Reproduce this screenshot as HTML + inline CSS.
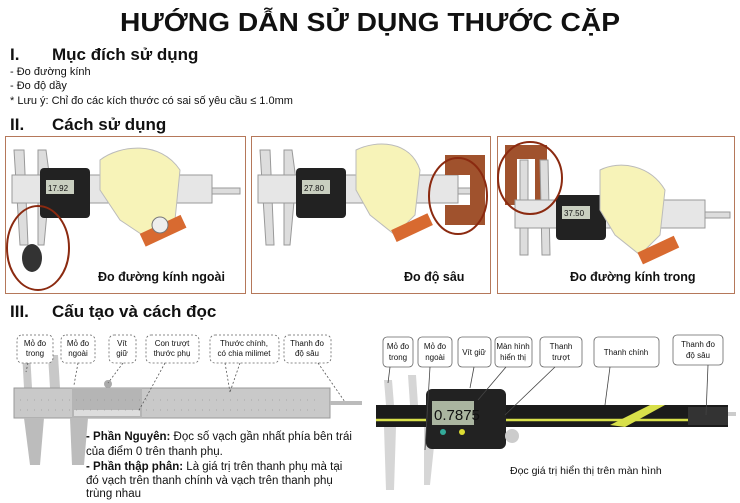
<!DOCTYPE html>
<html><head><meta charset="utf-8"><style>
html,body{margin:0;padding:0;background:#fff}
svg{display:block}
text{font-family:"Liberation Sans",sans-serif;fill:#111}
</style></head><body>
<svg width="740" height="503" viewBox="0 0 740 503" xmlns="http://www.w3.org/2000/svg">
<rect width="740" height="503" fill="#fff"/>
<text x="370" y="31" font-size="26" font-weight="bold" text-anchor="middle" textLength="500" lengthAdjust="spacingAndGlyphs">HƯỚNG DẪN SỬ DỤNG THƯỚC CẶP</text>
<text x="10" y="60" font-size="17" font-weight="bold">I.</text>
<text x="52" y="60" font-size="17" font-weight="bold">Mục đích sử dụng</text>
<text x="10" y="75" font-size="11">- Đo đường kính</text>
<text x="10" y="89" font-size="11">- Đo độ dầy</text>
<text x="10" y="104" font-size="11">* Lưu ý: Chỉ đo các kích thước có sai số yêu cầu ≤ 1.0mm</text>
<text x="10" y="130" font-size="17" font-weight="bold">II.</text>
<text x="52" y="130" font-size="17" font-weight="bold">Cách sử dụng</text>

<!-- Panel 1 -->
<g>
<rect x="5.5" y="136.5" width="240" height="157" fill="#fff" stroke="#b5785a"/>
<path d="M14 150 L24 150 L28 245 L20 245 Z" fill="#ddd" stroke="#999"/>
<path d="M38 150 L46 150 L50 180 L44 245 L38 245 Z" fill="#ddd" stroke="#999"/>
<rect x="12" y="175" width="200" height="28" fill="#e6e6e6" stroke="#999"/>
<rect x="212" y="188" width="28" height="6" fill="#ddd" stroke="#999"/>
<rect x="40" y="168" width="50" height="50" rx="4" fill="#222"/>
<rect x="46" y="180" width="28" height="14" fill="#c9cfc0"/>
<text x="48" y="191" font-size="8">17.92</text>
<path d="M100 160 C120 145 160 140 180 170 L175 220 L150 240 L120 220 L100 190 Z" fill="#f7f3b8" stroke="#bbb"/>
<rect x="140" y="225" width="45" height="14" fill="#d86a30" transform="rotate(-25 160 230)"/>
<circle cx="160" cy="225" r="8" fill="#eee" stroke="#777"/>
<ellipse cx="38" cy="248" rx="31" ry="42" fill="none" stroke="#8b2a10" stroke-width="2"/>
<ellipse cx="32" cy="258" rx="10" ry="14" fill="#333"/>
<text x="98" y="281" font-size="12.5" font-weight="bold">Đo đường kính ngoài</text>
</g>

<!-- Panel 2 -->
<g>
<rect x="251.5" y="136.5" width="239" height="157" fill="#fff" stroke="#b5785a"/>
<path d="M260 150 L270 150 L274 245 L266 245 Z" fill="#ddd" stroke="#999"/>
<path d="M284 150 L292 150 L296 180 L290 245 L284 245 Z" fill="#ddd" stroke="#999"/>
<rect x="258" y="175" width="200" height="28" fill="#e6e6e6" stroke="#999"/>
<rect x="458" y="188" width="20" height="6" fill="#ddd" stroke="#999"/>
<rect x="296" y="168" width="50" height="50" rx="4" fill="#222"/>
<rect x="302" y="180" width="28" height="14" fill="#c9cfc0"/>
<text x="304" y="191" font-size="8">27.80</text>
<path d="M356 150 C376 140 410 140 420 170 L415 215 L395 235 L370 215 L356 190 Z" fill="#f7f3b8" stroke="#bbb"/>
<rect x="392" y="222" width="40" height="13" fill="#d86a30" transform="rotate(-25 410 228)"/>
<rect x="445" y="155" width="40" height="20" fill="#a0522d"/>
<rect x="445" y="205" width="40" height="20" fill="#a0522d"/>
<rect x="470" y="155" width="15" height="70" fill="#a0522d"/>
<ellipse cx="458" cy="196" rx="29" ry="38" fill="none" stroke="#8b2a10" stroke-width="2"/>
<text x="404" y="281" font-size="12.5" font-weight="bold">Đo độ sâu</text>
</g>

<!-- Panel 3 -->
<g>
<rect x="497.5" y="136.5" width="237" height="157" fill="#fff" stroke="#b5785a"/>
<rect x="505" y="145" width="40" height="14" fill="#a0522d"/>
<rect x="505" y="145" width="12" height="60" fill="#a0522d"/>
<rect x="535" y="145" width="12" height="60" fill="#a0522d"/>
<path d="M520 160 L528 160 L528 255 L520 255 Z" fill="#ddd" stroke="#999"/>
<path d="M540 160 L548 160 L550 255 L542 255 Z" fill="#ddd" stroke="#999"/>
<rect x="515" y="200" width="190" height="28" fill="#e6e6e6" stroke="#999"/>
<rect x="705" y="212" width="25" height="6" fill="#ddd" stroke="#999"/>
<rect x="556" y="195" width="50" height="45" rx="4" fill="#222"/>
<rect x="562" y="206" width="28" height="13" fill="#c9cfc0"/>
<text x="564" y="216" font-size="8">37.50</text>
<path d="M600 170 C620 160 650 165 665 190 L660 235 L640 255 L615 235 L600 210 Z" fill="#f7f3b8" stroke="#bbb"/>
<rect x="638" y="245" width="40" height="13" fill="#d86a30" transform="rotate(-25 655 250)"/>
<ellipse cx="530" cy="178" rx="32" ry="36" fill="none" stroke="#8b2a10" stroke-width="2"/>
<text x="570" y="281" font-size="12.5" font-weight="bold">Đo đường kính trong</text>
</g>

<text x="10" y="317" font-size="17" font-weight="bold">III.</text>
<text x="52" y="317" font-size="17" font-weight="bold">Cấu tạo và cách đọc</text>

<!-- Left vernier caliper -->
<g>
<path d="M22 352 L30 352 L32 388 L24 388 Z" fill="#c8c8c8"/>
<path d="M48 355 L58 355 L60 388 L50 388 Z" fill="#c8c8c8"/>
<rect x="14" y="388" width="316" height="30" fill="#c9c9c9" stroke="#999"/>
<rect x="330" y="401" width="32" height="4" fill="#bbb"/>
<rect x="72" y="388" width="70" height="30" fill="#b5b5b5"/>
<rect x="74" y="410" width="66" height="6" fill="#ddd"/>
<path d="M24 418 L44 418 L40 465 L30 465 Z" fill="#bcbcbc"/>
<path d="M70 418 L88 418 L84 465 L72 465 Z" fill="#bcbcbc"/>
<circle cx="108" cy="384" r="4" fill="#aaa"/>
<g stroke="#888" stroke-width="0.6">
<line x1="20" y1="400" x2="320" y2="400" stroke-dasharray="1 6"/>
<line x1="20" y1="410" x2="320" y2="410" stroke-dasharray="1 6"/>
</g>
<g fill="#fff" stroke="#666" stroke-dasharray="2 2" stroke-width="0.8">
<rect x="17" y="335" width="36" height="28" rx="5"/>
<rect x="61" y="335" width="34" height="28" rx="5"/>
<rect x="109" y="335" width="27" height="28" rx="5"/>
<rect x="146" y="335" width="53" height="28" rx="5"/>
<rect x="210" y="335" width="69" height="28" rx="5"/>
<rect x="284" y="335" width="47" height="28" rx="5"/>
</g>
<g stroke="#555" stroke-dasharray="2 2" stroke-width="0.8" fill="none">
<line x1="28" y1="363" x2="26" y2="372"/>
<line x1="78" y1="363" x2="74" y2="385"/>
<line x1="123" y1="363" x2="108" y2="383"/>
<line x1="165" y1="363" x2="138" y2="412"/>
<line x1="225" y1="363" x2="230" y2="392"/>
<line x1="240" y1="363" x2="230" y2="392"/>
<line x1="318" y1="363" x2="345" y2="402"/>
</g>
<g font-size="8" text-anchor="middle">
<text x="35" y="346">Mỏ đo</text><text x="35" y="356">trong</text>
<text x="78" y="346">Mỏ đo</text><text x="78" y="356">ngoài</text>
<text x="122" y="346">Vít</text><text x="122" y="356">giữ</text>
<text x="172" y="346">Con trượt</text><text x="172" y="356">thước phụ</text>
<text x="244" y="346">Thước chính,</text><text x="244" y="356">có chia milimet</text>
<text x="307" y="346">Thanh đo</text><text x="307" y="356">độ sâu</text>
</g>
<g font-size="11.5">
<text x="86" y="440"><tspan font-weight="bold">- Phần Nguyên:</tspan> Đọc số vạch gần nhất  phía bên trái</text>
<text x="86" y="455">của điểm 0 trên thanh phụ.</text>
<text x="86" y="470"> <tspan font-weight="bold">- Phần thập phân:</tspan> Là giá trị trên thanh phụ mà tại</text>
<text x="86" y="484">đó vạch trên thanh chính và vạch trên thanh phụ</text>
<text x="86" y="497">trùng nhau</text>
</g>
</g>

<!-- Right digital caliper -->
<g>
<path d="M384 380 L392 380 L394 405 L386 405 Z" fill="#d6d6d6"/>
<path d="M408 375 L416 375 L418 405 L410 405 Z" fill="#d6d6d6"/>
<rect x="376" y="405" width="352" height="22" fill="#1b1b1b"/>
<line x1="376" y1="420" x2="690" y2="420" stroke="#d8e04a" stroke-width="2.5"/>
<path d="M610 425 L650 405 L665 405 L625 427 Z" fill="#d8e04a"/>
<rect x="688" y="407" width="40" height="18" fill="#333"/>
<rect x="728" y="412" width="8" height="4" fill="#ccc"/>
<path d="M384 427 L396 427 L394 490 L386 490 Z" fill="#d6d6d6"/>
<path d="M424 427 L436 427 L430 485 L424 485 Z" fill="#d6d6d6"/>
<rect x="426" y="389" width="80" height="60" rx="6" fill="#222"/>
<rect x="432" y="401" width="42" height="24" fill="#aab5a0"/>
<text x="434" y="420" font-size="15">0.7875</text>
<circle cx="443" cy="432" r="3" fill="#3a9"/>
<circle cx="462" cy="432" r="3" fill="#dd3"/>
<circle cx="512" cy="436" r="7" fill="#ccc"/>
<g fill="#fff" stroke="#666" stroke-width="0.8">
<rect x="383" y="337" width="30" height="30" rx="4"/>
<rect x="418" y="337" width="34" height="30" rx="4"/>
<rect x="458" y="337" width="33" height="30" rx="4"/>
<rect x="495" y="337" width="37" height="30" rx="4"/>
<rect x="540" y="337" width="42" height="30" rx="4"/>
<rect x="594" y="337" width="65" height="30" rx="4"/>
<rect x="673" y="335" width="50" height="30" rx="4"/>
</g>
<g stroke="#444" stroke-width="0.8" fill="none">
<line x1="390" y1="367" x2="388" y2="383"/>
<line x1="430" y1="367" x2="425" y2="450"/>
<line x1="474" y1="367" x2="470" y2="388"/>
<line x1="506" y1="367" x2="478" y2="400"/>
<line x1="555" y1="367" x2="505" y2="415"/>
<line x1="610" y1="367" x2="605" y2="405"/>
<line x1="708" y1="365" x2="706" y2="415"/>
</g>
<g font-size="8" text-anchor="middle">
<text x="398" y="349">Mỏ đo</text><text x="398" y="360">trong</text>
<text x="435" y="349">Mỏ đo</text><text x="435" y="360">ngoài</text>
<text x="474" y="355">Vít giữ</text>
<text x="513" y="349">Màn hình</text><text x="513" y="360">hiển thị</text>
<text x="561" y="349">Thanh</text><text x="561" y="360">trượt</text>
<text x="626" y="355">Thanh chính</text>
<text x="698" y="347">Thanh đo</text><text x="698" y="358">độ sâu</text>
</g>
<text x="510" y="474" font-size="10.5">Đọc giá trị hiển thị trên màn hình</text>
</g>
</svg>
</body></html>
